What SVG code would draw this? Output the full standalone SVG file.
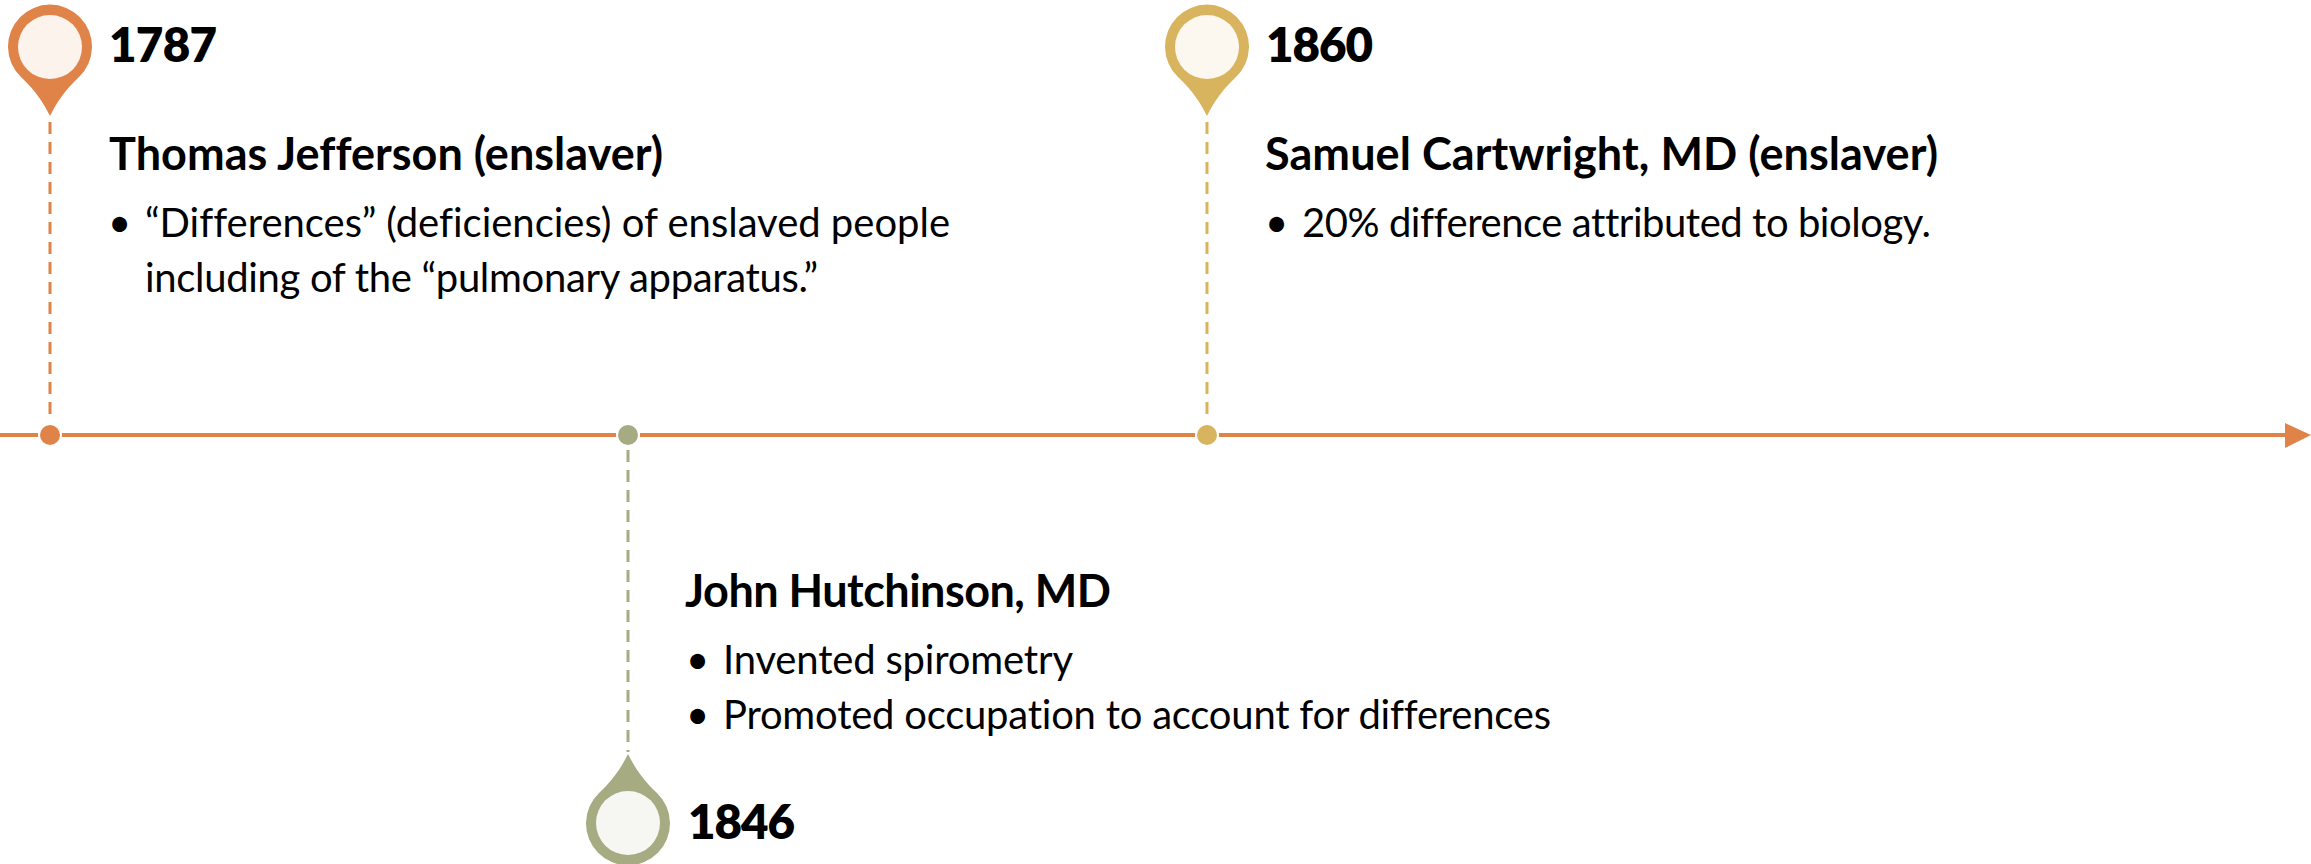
<svg xmlns="http://www.w3.org/2000/svg" width="2311" height="864" viewBox="0 0 2311 864">
<style>
text{font-family:"Lato","Liberation Sans",sans-serif;fill:#000;font-variant-ligatures:none}
.y{font-size:47.5px;font-weight:800}
.h{font-size:45px;font-weight:700}
.b{font-size:40px}
.d{fill:none;stroke-width:3;stroke-dasharray:12 8}
.in{opacity:.9;fill:#fff}
</style>
<defs>
<path id="pin" d="M0 69C-6 57-14 44-29 30A42 42 0 1 1 29 30C14 44 6 57 0 69Z"/>
</defs>
<g id="connectors">
<path d="M50 122V420" class="d" stroke="#df8349"/>
<path d="M628 450V752" class="d" stroke="#a6ab82"/>
<path d="M1207 122V420" class="d" stroke="#d9b45f"/>
<path d="M0 435H2287" fill="none" stroke="#df8349" stroke-width="4"/>
<path d="M2285 423L2311 435L2285 448Z" fill="#df8349"/>
</g>
<g id="n1787">
<circle cx="50" cy="435" r="12" fill="#fff"/><circle cx="50" cy="435" r="10" fill="#df8349"/>
<use href="#pin" x="50" y="47" fill="#df8349"/>
<circle cx="50" cy="47" r="32" class="in"/>
<text x="109" y="62" class="y" textLength="108">1787</text>
<text x="109" y="170" class="h" textLength="554">Thomas Jefferson (enslaver)</text>
<text x="108" y="237" class="b">•</text>
<text x="145" y="237" class="b" textLength="805">“Differences” (deficiencies) of enslaved people</text>
<text x="145" y="292" class="b" textLength="673">including of the “pulmonary apparatus.”</text>
</g>
<g id="n1846">
<circle cx="628" cy="435" r="12" fill="#fff"/><circle cx="628" cy="435" r="10" fill="#a6ab82"/>
<use href="#pin" transform="translate(628 823) scale(1 -1)" fill="#a6ab82"/>
<circle cx="628" cy="823" r="32" class="in"/>
<text x="688" y="839" class="y" textLength="107">1846</text>
<text x="685" y="607" class="h" textLength="426">John Hutchinson, MD</text>
<text x="686" y="674" class="b">•</text>
<text x="723" y="674" class="b" textLength="350">Invented spirometry</text>
<text x="686" y="729" class="b">•</text>
<text x="723" y="729" class="b" textLength="828">Promoted occupation to account for differences</text>
</g>
<g id="n1860">
<circle cx="1207" cy="435" r="12" fill="#fff"/><circle cx="1207" cy="435" r="10" fill="#d9b45f"/>
<use href="#pin" x="1207" y="47" fill="#d9b45f"/>
<circle cx="1207" cy="47" r="32" class="in"/>
<text x="1266" y="62" class="y" textLength="107">1860</text>
<text x="1265" y="170" class="h" textLength="673">Samuel Cartwright, MD (enslaver)</text>
<text x="1265" y="237" class="b">•</text>
<text x="1302" y="237" class="b" textLength="629">20% difference attributed to biology.</text>
</g>
</svg>
